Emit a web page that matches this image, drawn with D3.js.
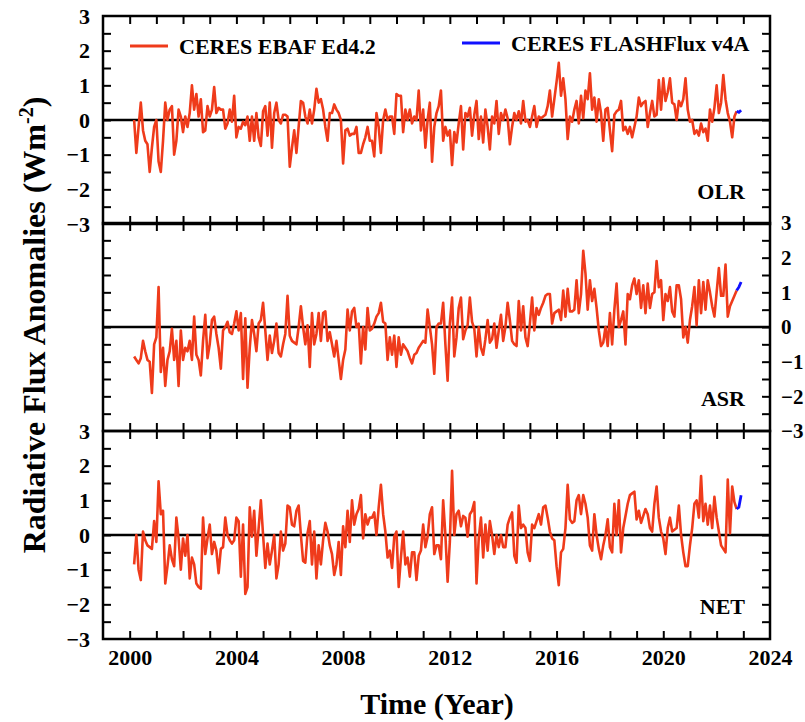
<!DOCTYPE html>
<html>
<head>
  <meta charset="UTF-8">
  <title>CERES radiative flux anomalies</title>
  <script src="https://d3js.org/d3.v7.min.js"></script>
  <style>
    body { margin: 0; background: #fff; overflow: hidden; }
    text { font-family: "Liberation Serif", "Times New Roman", serif; font-weight: bold; fill: #000; }
  </style>
</head>
<body>
  <div id="chart"></div>
  <script>
    // Monthly anomalies (W m-2), EBAF Ed4.2 from Mar 2000 to Oct 2022
    const olrEbaf = [
      0.0, -0.95, -0.2, 0.5, -0.3, -0.6, -0.7, -1.5, -0.8, -0.2,
      0.0, -1.2, -1.5, -0.6, 0.5, 0.0, 0.3, 0.4, -1.0, -0.6, 0.3, 0.1,
      -0.35, 0.1, -0.2, 0.2, 1.0, 0.3, 0.75, 0.1, 0.6, -0.35, -0.3, 0.4,
      0.1, 0.3, 0.95, 0.2, 0.35, 0.3, 0.3, -0.25, -0.1, 0.3, -0.05, 0.7,
      -0.5, -0.2, -0.25, -0.05, -0.15, 0.1, -0.6, 0.1, -0.6, 0.2, -0.5, -0.75,
      0.25, 0.4, -0.45, 0.5, -0.8, 0.2, 0.5, 0.0, -0.1, 0.15, 0.15, 0.1,
      -1.35, -0.8, -0.3, -0.95, -0.2, 0.55, 0.5, 0.1, -0.1, 0.3, -0.1, 0.3,
      0.9, 0.5, 0.6, 0.3, -0.2, -0.6, 0.2, 0.2, 0.45, 0.3, 0.2, 0.0,
      -1.25, -0.3, -0.25, -0.45, -0.4, -0.4, -0.2, -0.95, -0.95, -0.7, -0.5, -0.2,
      -0.6, -0.6, -1.05, 0.2, -0.2, -0.95, 0.0, 0.3, 0.0, 0.1, 0.1, -0.4,
      0.75, 0.7, 0.7, -0.35, 0.3, 0.0, 0.3, -0.1, 0.1, 0.0, 0.85, -0.3,
      0.3, -0.8, 0.0, 0.5, -1.2, -0.2, 0.2, 0.4, 0.85, -0.6, -0.2, -0.45,
      -0.3, -1.3, -0.35, -0.65, -0.1, 0.4, -0.85, 0.2, 0.1, 0.35, -0.45, 0.15,
      0.55, -0.55, 0.1, -0.65, 0.3, -0.2, -0.85, 0.1, -0.1, 0.55, -0.4, 0.2,
      0.0, 0.3, 0.05, -0.7, -0.2, 0.2, 0.0, 0.25, -0.1, 0.55, -0.05, 0.0,
      -0.2, 0.1, 0.4, -0.2, 0.1, 0.05, 0.1, 0.15, 0.4, 0.85, 0.1, 0.6,
      1.1, 1.65, 0.7, 1.2, 0.6, -0.55, 0.1, -0.05, 0.3, 0.55, -0.1, 0.7,
      0.05, 0.85, 0.6, 1.35, 0.3, 0.65, -0.05, 0.6, 0.2, -0.6, 0.3, 0.35,
      -0.3, -0.9, 0.15, 0.25, 0.3, 0.55, -0.3, -0.2, -0.4, -0.2, -0.5, -0.2,
      0.1, 0.65, 0.4, 0.5, 0.55, -0.2, 0.2, 0.55, 0.1, 0.15, 1.15, 0.3,
      1.2, 0.55, 0.8, 1.2, 0.5, 0.45, 0.0, 0.55, 0.4, 0.6, 1.2, 0.3,
      -0.05, 0.0, -0.4, -0.3, -0.45, -0.1, -0.35, -0.25, -0.6, 0.3, -0.05, 0.35,
      1.0, 0.2, 0.5, 1.3, 0.6, 0.2, -0.05, -0.5, 0.1, 0.25
    ];
    const asrEbaf = [
      -0.85, -0.95, -1.05, -0.9, -0.4, -0.7, -0.95, -1.0, -1.9, -0.5,
      -0.3, 1.15, -1.3, -0.6, -1.7, -0.95, -0.7, -0.05, -0.95, -0.4, -1.7, -0.1,
      -0.95, -0.6, -0.7, -0.4, -0.95, 0.3, -0.8, -0.95, -1.4, -0.4, 0.35, -0.9,
      -0.5, 0.2, 0.3, -0.2, -0.6, -1.2, -0.1, 0.0, 0.15, -0.15, -0.2, 0.1,
      0.45, -0.1, 0.4, -1.5, 0.25, -1.75, -0.6, 0.2, -0.2, -0.7, 0.1, 0.2,
      0.7, -0.1, -0.95, -0.25, -0.75, -0.4, 0.1, -0.75, -0.85, -0.5, -0.2, 0.9,
      -0.25, -0.4, -0.45, -0.5, 0.0, 0.6, 0.0, -0.5, 0.05, -1.15, 0.4, -0.5,
      -0.2, 0.4, -0.4, 0.4, 0.45, -0.4, -0.15, -0.5, -0.85, -0.4, -0.95, -1.5,
      -0.95, -0.65, 0.5, -0.1, 0.45, 0.55, 0.0, 0.1, -1.05, 0.0, -0.65, 0.55,
      -0.1, -0.05, 0.1, 0.3, 0.4, 0.7, 0.15, 0.1, -0.95, -0.3, -0.8, -0.25,
      -1.15, -0.3, -0.8, -0.5, -0.6, -0.7, -0.9, -1.05, -0.8, -0.75, -0.6, -0.5,
      -0.4, -0.45, 0.5, 0.0, -0.5, -1.35, 0.0, 0.1, 0.1, 0.7, -0.5, -1.55,
      0.1, 0.85, -0.85, -0.3, 0.55, 0.85, -0.35, -0.1, 0.05, 0.85, 0.15, -0.05,
      -0.85, 0.0, -0.6, -0.8, -0.35, 0.2, -0.45, -0.35, 0.1, -0.6, -0.1, 0.35,
      -0.4, 0.0, 0.7, 0.2, -0.4, -0.5, -0.55, 0.75, -0.1, 0.6, -0.3, -0.55,
      0.1, 0.85, -0.1, 0.55, 0.35, 0.55, 0.7, 0.9, 0.95, 0.95, 0.1, 0.4,
      0.45, 0.5, 0.2, 1.05, 0.3, 1.1, 0.45, 0.45, 0.5, 1.35, 0.4, 0.95,
      2.2, 1.55, 0.5, 1.35, 0.75, 1.1, 0.55, -0.1, -0.55, -0.45, 0.0, -0.55,
      0.4, -0.5, 0.5, 1.25, 0.0, 0.2, 0.45, -0.5, 0.95, 0.8, 1.2, 1.4,
      0.95, 1.35, 0.55, 1.2, 0.4, 1.25, 0.55, 0.95, 1.0, 1.9, 1.15, 1.35,
      0.2, 0.95, 0.75, 1.15, 0.45, 0.3, 1.2, 1.2, 0.8, -0.3, 0.0, -0.45,
      0.2, 0.6, 1.15, 0.05, 1.35, 0.4, 1.3, 0.5, 1.35, 1.0, 0.6, 0.3,
      1.0, 1.7, 0.9, 0.9, 1.8, 0.3, 0.6, 0.75, 0.9, 1.05
    ];
    const netEbaf = [
      -0.85, 0.0, -1.0, -1.3, 0.1, -0.15, -0.3, -0.35, -0.4, 0.4,
      -0.2, 1.55, 0.6, 0.7, -1.4, -0.9, -0.3, -0.7, -0.9, 0.5, -0.1, -1.0,
      -0.1, -0.6, 0.0, -1.25, -0.65, -0.85, -1.4, -1.5, -1.55, 0.5, -0.55, -0.1,
      0.3, -0.55, -0.2, -0.45, -1.1, -0.4, -0.35, 0.5, 0.0, -0.15, -0.25, -0.15,
      0.5, 0.4, -1.2, 0.3, -1.7, -1.5, 0.8, -0.05, 0.7, -0.6, 0.2, 1.0,
      0.0, -0.95, -0.25, -0.85, -0.45, 0.0, -1.25, -0.85, 0.1, -0.45, -0.25, 0.85,
      0.8, 0.3, 0.25, 0.7, 0.85, 0.0, -0.75, -0.8, 0.05, 0.4, -0.85, 0.1,
      -1.25, -0.3, -0.85, -0.15, 0.35, 0.1, -0.3, -0.55, -1.15, -0.85, -0.2, -1.15,
      0.25, -0.35, 0.7, -0.2, 1.0, 0.3, 0.6, 0.75, 1.15, -0.1, 0.6, 0.3,
      0.5, 0.5, 0.65, 0.0, 0.8, 1.45, 0.6, 0.1, -0.65, -0.45, -0.95, -0.05,
      0.1, -1.5, -0.65, 0.1, -0.85, -0.65, -1.2, -0.5, -0.5, -1.3, -0.6, -0.45,
      0.3, -0.35, -0.05, 0.6, 0.8, -0.55, -0.3, -0.3, -0.7, 1.0, 0.0, -1.35,
      -0.2, 1.85, 0.0, 0.6, 0.7, 0.25, 0.55, 0.5, -0.05, 0.6, 0.7, 0.95,
      -1.4, -0.1, 0.5, -0.65, 0.3, -0.45, 0.4, 0.0, -0.55, 0.0, -0.35, 0.0,
      -0.35, -0.35, 0.3, 0.5, 0.65, -0.6, -0.8, 0.85, 0.2, 0.3, 0.2, -0.5,
      -0.75, 0.3, 0.2, 0.4, 0.6, 0.3, 0.8, 0.85, 0.5, 0.1, -0.1, -0.15,
      -0.9, -1.45, -0.5, -0.4, 0.2, 1.45, 0.45, 0.35, 0.4, 1.0, 1.15, 0.6,
      1.15, 0.9, 0.5, -0.3, -0.45, 0.6, 0.0, -0.4, -0.7, -0.3, 0.0, 0.45,
      -0.35, -0.5, 0.9, 0.0, 1.0, -0.5, 0.2, 0.55, 0.9, 1.15, 1.2, 1.25,
      0.45, 0.7, 0.35, 0.55, 0.75, 0.6, 0.2, 0.1, 0.9, 1.4, 0.5, 0.1,
      -0.1, -0.55, 0.2, 0.5, 0.1, 0.15, 0.2, 0.85, 0.0, -0.5, -0.9, -0.9,
      -0.3, 0.2, 0.9, 1.0, 0.5, 1.7, 0.4, 0.9, 0.3, 0.85, 0.2, 1.1,
      0.5, 0.1, -0.3, -0.4, -0.5, 1.6, 0.05, 1.4, 0.95, 0.75
    ];

    // FLASHFlux v4A, Oct - Dec 2022
    const olrFlash = [0.25, 0.22, 0.28];
    const asrFlash = [1.05, 1.15, 1.3];
    const netFlash = [0.75, 0.8, 1.15];

    const xTickYears = d3.range(2000, 2025, 4);
    const yTickValues = [-3, -2, -1, 0, 1, 2, 3];

    // month index 0 = March 2000
    const monthTime = i => 2000 + (2 + i) / 12;
    const flashOffset = olrEbaf.length - 1;

    const width = 805, height = 722;
    const left = 103, right = 770;
    const panelTops = [16, 223, 431], panelH = 208;

    const svg = d3.select("#chart").append("svg")
      .attr("width", width).attr("height", height)
      .style("display", "block");

    const x = d3.scaleLinear().domain([1999, 2024]).range([left, right]);

    const panels = [
      { name: "OLR", ebaf: olrEbaf, flash: olrFlash, side: "left" },
      { name: "ASR", ebaf: asrEbaf, flash: asrFlash, side: "right" },
      { name: "NET", ebaf: netEbaf, flash: netFlash, side: "left" }
    ];

    panels.forEach(function(p, k) {
      const top = panelTops[k], bottom = top + panelH;
      const y = d3.scaleLinear().domain([-3, 3]).range([bottom, top]);
      const g = svg.append("g");

      const line = d3.line().x(d => x(d[0])).y(d => y(d[1]));

      // zero line
      g.append("line")
        .attr("x1", left).attr("x2", right)
        .attr("y1", y(0)).attr("y2", y(0))
        .attr("stroke", "#000").attr("stroke-width", 2.5);

      // EBAF series
      g.append("path")
        .datum(p.ebaf.map((v, i) => [monthTime(i), v]))
        .attr("d", line)
        .attr("fill", "none")
        .attr("stroke", "#ef3b1b")
        .attr("stroke-width", 2.6)
        .attr("stroke-linejoin", "round");

      // FLASHFlux series
      g.append("path")
        .datum(p.flash.map((v, i) => [monthTime(flashOffset + i), v]))
        .attr("d", line)
        .attr("fill", "none")
        .attr("stroke", "#1010ff")
        .attr("stroke-width", 2.8);

      // inward ticks on all four sides
      const tickStyle = sel => {
        sel.select(".domain").remove();
        sel.selectAll(".tick line").attr("stroke", "#000").attr("stroke-width", 2);
      };
      const yearTicks = d3.range(2000, 2024);
      const minorY = d3.range(-2.5, 2.51, 0.5);

      g.append("g").attr("transform", `translate(0,${bottom})`)
        .call(d3.axisBottom(x).tickValues(yearTicks).tickSize(-8).tickFormat(""))
        .call(tickStyle);
      g.append("g").attr("transform", `translate(0,${top})`)
        .call(d3.axisTop(x).tickValues(yearTicks).tickSize(-8).tickFormat(""))
        .call(tickStyle);
      g.append("g").attr("transform", `translate(${left},0)`)
        .call(d3.axisLeft(y).tickValues(minorY).tickSize(-8).tickFormat(""))
        .call(tickStyle);
      g.append("g").attr("transform", `translate(${right},0)`)
        .call(d3.axisRight(y).tickValues(minorY).tickSize(-8).tickFormat(""))
        .call(tickStyle);

      // y tick labels
      const isLeft = p.side === "left";
      const labAxis = isLeft
        ? d3.axisLeft(y).tickValues(yTickValues).tickSize(0).tickPadding(13).tickFormat(d3.format("d"))
        : d3.axisRight(y).tickValues(yTickValues).tickSize(0).tickPadding(11).tickFormat(d3.format("d"));
      g.append("g")
        .attr("transform", `translate(${isLeft ? left : right},0)`)
        .call(labAxis)
        .call(s => s.select(".domain").remove())
        .selectAll("text")
        .style("font-family", '"Liberation Serif", serif')
        .style("font-weight", "bold")
        .style("font-size", isLeft ? "22px" : "21px")
        .attr("fill", "#000");

      // frame
      g.append("rect")
        .attr("x", left).attr("y", top)
        .attr("width", right - left).attr("height", panelH)
        .attr("fill", "none").attr("stroke", "#000").attr("stroke-width", 2.5);

      // panel name
      g.append("text")
        .attr("x", 745).attr("y", bottom - 25)
        .attr("text-anchor", "end")
        .style("font-size", "22px")
        .text(p.name);
    });

    // x tick labels
    svg.append("g")
      .attr("transform", `translate(0,${panelTops[2] + panelH})`)
      .call(d3.axisBottom(x).tickValues(xTickYears).tickSize(0).tickPadding(10).tickFormat(d3.format("d")))
      .call(s => s.select(".domain").remove())
      .selectAll("text")
      .style("font-family", '"Liberation Serif", serif')
      .style("font-weight", "bold")
      .style("font-size", "22px")
      .attr("fill", "#000");

    // axis titles
    svg.append("text")
      .attr("x", 437).attr("y", 714)
      .attr("text-anchor", "middle")
      .style("font-size", "30px")
      .text("Time (Year)");

    const yTitle = svg.append("text")
      .attr("transform", "translate(45,325) rotate(-90)")
      .attr("text-anchor", "middle")
      .style("font-size", "32px");
    yTitle.append("tspan").text("Radiative Flux Anomalies (Wm");
    yTitle.append("tspan").attr("dy", -12).style("font-size", "20px").text("-2");
    yTitle.append("tspan").attr("dy", 12).text(")");

    // legend
    svg.append("line").attr("x1", 130).attr("x2", 168).attr("y1", 46).attr("y2", 46)
      .attr("stroke", "#ef3b1b").attr("stroke-width", 3);
    svg.append("text").attr("x", 179).attr("y", 53.5)
      .style("font-size", "22px").text("CERES EBAF Ed4.2");
    svg.append("line").attr("x1", 462).attr("x2", 500).attr("y1", 43).attr("y2", 43)
      .attr("stroke", "#1010ff").attr("stroke-width", 3);
    svg.append("text").attr("x", 511).attr("y", 50.5)
      .style("font-size", "22px").text("CERES FLASHFlux v4A");
  </script>
</body>
</html>
